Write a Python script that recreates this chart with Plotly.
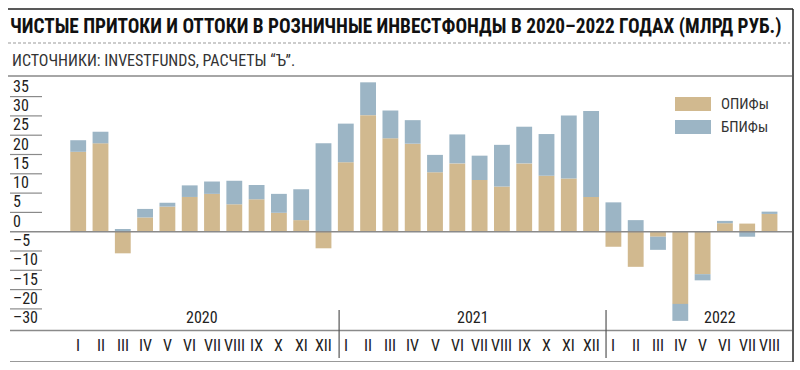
import plotly.graph_objects as go

# ---------------- data ----------------
MONTHS = ["I", "II", "III", "IV", "V", "VI", "VII", "VIII", "IX", "X", "XI", "XII",
          "I", "II", "III", "IV", "V", "VI", "VII", "VIII", "IX", "X", "XI", "XII",
          "I", "II", "III", "IV", "V", "VI", "VII", "VIII"]
YEARS = ["2020", "2021", "2022"]
OPIF = [20.7, 22.9, -5.6, 3.7, 6.5, 9.0, 9.8, 7.1, 8.4, 4.9, 3.0, -4.3,
        18.0, 30.2, 24.2, 22.8, 15.4, 17.7, 13.4, 11.7, 17.7, 14.5, 13.8, 9.0,
        -3.9, -9.1, -1.3, -18.7, -11.0, 2.2, 2.1, 4.6]
BPIF = [3.0, 3.0, 0.7, 2.2, 1.0, 3.0, 3.2, 6.1, 3.7, 4.9, 8.0, 22.9,
        10.0, 8.5, 7.2, 6.1, 4.5, 7.5, 6.3, 10.8, 9.5, 10.8, 16.3, 22.3,
        7.6, 3.0, -3.4, -4.4, -1.6, 0.6, -1.3, 0.6]
TICK_TEXT = ["35", "30", "25", "20", "15", "10", "5", "0", "–5", "–10", "–15", "–20", "–30"]
TICK_VALS = [35, 30, 25, 20, 15, 10, 5, 0, -5, -10, -15, -20, -25.6]
SERIES = ["ОПИФы", "БПИФы"]

TITLE = "ЧИСТЫЕ ПРИТОКИ И ОТТОКИ В РОЗНИЧНЫЕ ИНВЕСТФОНДЫ В 2020–2022 ГОДАХ (МЛРД РУБ.)"
SOURCE = "ИСТОЧНИКИ: INVESTFUNDS, РАСЧЕТЫ “Ъ”."

# ---------------- style ----------------
BEIGE = "#d1b98f"
BLUE = "#9cb5c5"
GRID = "#8a8a8a"
FONT = "Liberation Sans Narrow, Roboto Condensed, Arial Narrow, Roboto, sans-serif"

W, H = 800, 370
L, R, T, B = 10, 8, 76, 8
PW, PH = W - L - R, H - T - B


def px(x):
    return (x - L) / PW


def py(y):
    return (H - B - y) / PH


x_idx = list(range(len(MONTHS)))

fig = go.Figure()
fig.add_trace(go.Bar(x=x_idx, y=OPIF, name=SERIES[0], marker_color=BEIGE,
                     marker_line_width=0, width=0.71))
fig.add_trace(go.Bar(x=x_idx, y=BPIF, name=SERIES[1], marker_color=BLUE,
                     marker_line_width=0, width=0.71))

shapes = []
annotations = []

# frame / decoration lines
shapes.append(dict(type="line", xref="paper", yref="paper", x0=px(8), x1=px(793),
                   y0=py(9), y1=py(9), line=dict(color="#222", width=1.5)))
shapes.append(dict(type="line", xref="paper", yref="paper", x0=px(793), x1=px(793),
                   y0=py(9), y1=py(362), line=dict(color="#222", width=1.5)))
shapes.append(dict(type="line", xref="paper", yref="paper", x0=px(8), x1=px(790),
                   y0=py(43), y1=py(43), line=dict(color="#999", width=1, dash="3px,2px")))
shapes.append(dict(type="line", xref="paper", yref="paper", x0=px(8), x1=px(792),
                   y0=py(76), y1=py(76), line=dict(color="#888", width=1.5)))
shapes.append(dict(type="line", xref="paper", yref="paper", x0=px(10), x1=px(792),
                   y0=py(361.5), y1=py(361.5), line=dict(color="#999", width=1.2)))

# y tick rules + labels
for v, t in zip(TICK_VALS, TICK_TEXT):
    full = v in (0, TICK_VALS[-1])
    last = v == TICK_VALS[-1]
    shapes.append(dict(type="line", xref="paper", yref="y",
                       x0=px(10), x1=px(792) if full else px(42), y0=v, y1=v,
                       line=dict(color=GRID, width=1.5 if full else 1.2), layer="above"))
    annotations.append(dict(xref="paper", yref="y", x=px(11), y=v, text=t,
                            showarrow=False, xanchor="left", yanchor="bottom",
                            yshift=2 if last else -1,
                            font=dict(family=FONT, size=16, color="#222")))

# month labels
for i, m in enumerate(MONTHS):
    annotations.append(dict(xref="x", yref="paper", x=i, y=py(345), text=m,
                            showarrow=False, xanchor="center", yanchor="middle",
                            font=dict(family=FONT, size=16, color="#222")))

# year labels and separators
for xpos, yr in zip([5.54, 17.7, 28.78], YEARS):
    annotations.append(dict(xref="x", yref="paper", x=xpos, y=py(317), text=yr,
                            showarrow=False, xanchor="center", yanchor="middle",
                            font=dict(family=FONT, size=16, color="#222")))
for xs in [11.7, 23.67]:
    shapes.append(dict(type="line", xref="x", yref="paper", x0=xs, x1=xs,
                       y0=py(310), y1=py(358), line=dict(color="#555", width=1.2)))

# legend
for k, (name, col) in enumerate(zip(SERIES, [BEIGE, BLUE])):
    y0 = 97 + k * 23
    shapes.append(dict(type="rect", xref="paper", yref="paper", x0=px(675), x1=px(711),
                       y0=py(y0), y1=py(y0 + 14), fillcolor=col, line_width=0))
    annotations.append(dict(xref="paper", yref="paper", x=px(719), y=py(y0 + 7), text=name,
                            showarrow=False, xanchor="left", yanchor="middle",
                            font=dict(family=FONT, size=15, color="#333")))

# title & source
annotations.append(dict(xref="paper", yref="paper", x=px(8), y=py(26), text="<b>" + TITLE + "</b>",
                        showarrow=False, xanchor="left", yanchor="middle",
                        font=dict(family=FONT, size=19.3, color="#111")))
annotations.append(dict(xref="paper", yref="paper", x=px(10), y=py(61), text=SOURCE,
                        showarrow=False, xanchor="left", yanchor="middle",
                        font=dict(family=FONT, size=16, color="#333")))

s, c0 = 22.3, 78.2
fig.update_layout(
    width=W, height=H, margin=dict(l=L, r=R, t=T, b=B, pad=0),
    paper_bgcolor="white", plot_bgcolor="white",
    barmode="relative", showlegend=False,
    xaxis=dict(visible=False, range=[(L - c0) / s, (W - R - c0) / s], fixedrange=True),
    yaxis=dict(visible=False, range=[-(H - B - 231.7) / 3.86, (231.7 - T) / 3.86], fixedrange=True),
    shapes=shapes, annotations=annotations,
)

fig.write_html("out.html", config={"displayModeBar": False},
               post_script="document.body.style.margin='0px';document.body.style.overflow='hidden';")
